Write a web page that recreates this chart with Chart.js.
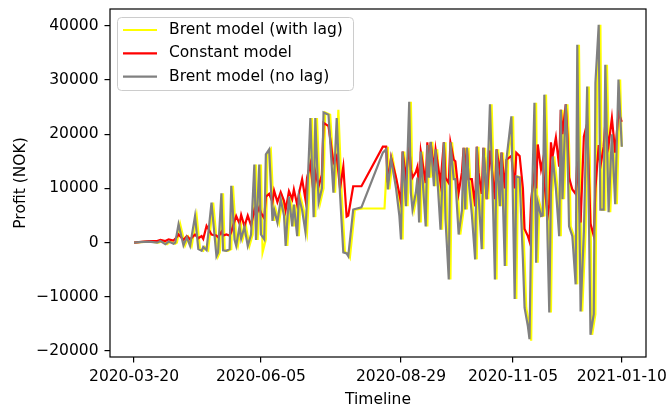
<!DOCTYPE html>
<html>
<head>
<meta charset="utf-8">
<script src="https://cdn.jsdelivr.net/npm/chart.js@4/dist/chart.umd.min.js"></script>
<style>
  html, body { margin: 0; padding: 0; background: #fff; }
  #wrap { width: 668px; height: 409px; }
</style>
</head>
<body>
<div id="wrap"><canvas id="profitChart" width="668" height="409"></canvas></div>
<script>
// days counted from 2020-03-20
const days = [
  0, 3, 9, 14, 16, 19, 21, 24, 25, 27,
  30, 32, 34, 37, 39, 41, 42, 44, 47, 50,
  51, 53, 54, 56, 58, 59, 61, 62, 64, 65,
  67, 69, 71, 73, 74, 76, 77, 79, 80, 82,
  84, 85, 87, 89, 91, 92, 94, 96, 97, 99,
  100, 102, 104, 105, 107, 109, 110, 112, 114, 115,
  118, 121, 123, 125, 127, 129, 130, 133, 138, 151,
  153, 154, 156, 159, 161, 162, 163, 165, 167, 168,
  169, 171, 172, 173, 174, 177, 178, 179, 180, 182,
  183, 186, 188, 189, 191, 192, 194, 195, 197, 199,
  200, 201, 202, 203, 205, 207, 208, 209, 211, 212,
  214, 216, 218, 219, 220, 222, 223, 225, 226, 229,
  231, 232, 234, 236, 237, 239, 240, 241, 243, 244,
  245, 247, 248, 249, 251, 252, 253, 254, 256, 258,
  259, 260, 262, 263, 264, 266, 268, 269, 271, 273,
  275, 277, 279, 280, 282, 283, 285, 286, 288, 290,
  292, 294, 296
];

const constantProfit = [
  0, 100, 300, 300, 500, 300, 600, 400, 700, 1500,
  500, 1200, 600, 1500, 800, 1200, 700, 3100, 1500, 1300,
  1000, 2000, 1300, 1500, 1300, 2000, 4000, 4900, 3500, 5100,
  3000, 5000, 3200, 6000, 5000, 6500, 5500, 4500, 8500, 9000,
  7500, 9600, 7500, 9300, 7700, 6000, 9500, 8000, 9800, 7000,
  9000, 11700, 8000, 12000, 14500, 9000, 13000, 10400, 12500, 22100,
  21500, 14800, 16000, 10000, 14000, 4800, 5000, 10400, 10400, 17700,
  17700, 11100, 15700, 12000, 9000, 7400, 16800, 12000, 18000, 13500,
  12000, 13000, 14000, 10000, 16800, 11000, 18500, 14000, 18500, 13500,
  17200, 11000, 18500, 12000, 11000, 18500, 15300, 15000, 9200, 13000,
  17500, 13000, 17500, 11700, 11700, 6700, 17700, 13000, 9000, 17500,
  8000, 17000, 11000, 8000, 17200, 13000, 16600, 10000, 15300, 16000,
  10000, 16600, 16000, 10000, 2500, 1200, 200, 8000, 13000, 10000,
  18100, 13500, 15000, 11000, 4900, 7000, 18500, 15900, 19400, 14000,
  24500, 20000, 25500, 20000, 12000, 9800, 9000, 15000, 3700, 19600,
  22000, 3500, 1200, 10000, 18000, 14000, 17700, 22000, 18000, 23000,
  16600, 24000, 22300
];

const brentNoLag = [
  0, 100, 200, 0, 300, -300, 200, -200, 0, 3400,
  -500, 1000, -600, 4900, -1200, -1500, -800, -1400, 7400, -2500,
  -1800, 9100, -1400, -1500, -1200, 10500, 500, -600, 3000, 700,
  2900, -600, 1500, 14400, 500, 14400, 1500, 600, 16300, 17200,
  4000, 6100, 3700, 8000, 5000, -600, 8500, 3000, 7000, 1200,
  8500, 6000, 2000, 8000, 23000, 4700, 23000, 7400, 10000, 24000,
  23600, 9200, 23000, 9000, -1800, -2000, -2500, 6100, 6500, 16600,
  17200, 9800, 15500, 10000, 5000, 600, 16800, 6700, 26000, 9200,
  6100, 9200, 12000, 3700, 16800, 3000, 18000, 12000, 18600, 10400,
  17200, 2400, 18500, 4300, -6800, 18500, 11700, 11700, 1500, 6000,
  17500, 6100, 17500, 11700, 5200, -3100, 17700, 9200, -1200, 17500,
  8000, 25500, 5000, -6800, 17200, 6700, 16600, -4300, 15300, 23300,
  -10400, 12200, 12000, -3100, -12000, -15400, -17800, 2000, 25800, -3700,
  7400, 4900, 5000, 27300, 0, -12900, 9200, 15900, 10000, 1200,
  24500, 8000, 25500, 18000, 3000, 1200, -7700, 36500, -12700, 2000,
  28800, -17000, -13200, 29500, 40200, 6100, 6100, 32800, 5600, 20000,
  7100, 30100, 17700
];

// the lagged model trails the unlagged one by a day
const lagDays = [
  0, 4, 10, 15, 17, 20, 22, 25, 26, 28,
  31, 33, 35, 38, 40, 42, 43, 45, 48, 51,
  52, 54, 55, 57, 59, 60, 62, 63, 65, 66,
  68, 70, 72, 74, 75, 77, 78, 80, 81, 83,
  85, 86, 88, 90, 92, 93, 95, 97, 98, 100,
  101, 103, 105, 106, 108, 110, 111, 113, 115, 116,
  119, 122, 124, 126, 128, 130, 131, 134, 139, 152,
  154, 155, 157, 160, 162, 163, 164, 166, 168, 169,
  170, 172, 173, 174, 175, 178, 179, 180, 181, 183,
  184, 187, 189, 190, 192, 193, 195, 196, 198, 200,
  201, 202, 203, 204, 206, 208, 209, 210, 212, 213,
  215, 217, 219, 220, 221, 223, 224, 226, 227, 230,
  232, 233, 235, 237, 238, 240, 241, 242, 244, 245,
  246, 248, 249, 250, 252, 253, 254, 255, 257, 259,
  260, 261, 263, 264, 265, 267, 269, 270, 272, 274,
  276, 278, 280, 281, 283, 284, 286, 287, 289, 291,
  293, 295, 296
];

const brentWithLag = [
  0, 100, 200, 0, 300, -300, 200, -200, 0, 3400,
  -500, 1000, -600, 4900, -1200, -1500, -800, -1400, 7400, -2500,
  -1800, 9100, -1400, -1500, -1200, 10500, 500, -600, 3000, 700,
  2900, -600, 1500, 14400, 500, 14400, -1800, 600, 16300, 17200,
  4000, 6100, 3700, 8000, 5000, -600, 8500, 3000, 7000, 1200,
  8500, 6000, 2000, 8000, 23000, 4700, 23000, 7400, 10000, 24000,
  23600, 9200, 24500, 9000, -1800, -2000, -2700, 6100, 6300, 6300,
  17700, 9800, 15500, 10000, 5000, 600, 16800, 6700, 26000, 9200,
  6100, 9200, 12000, 3700, 16800, 3000, 18000, 12000, 18600, 10400,
  17200, 2400, 18500, 4300, -6800, 18500, 11700, 11700, 1500, 6000,
  17500, 6100, 17500, 11700, 5200, -3100, 17700, 9200, -1200, 17500,
  8000, 25500, 5000, -6800, 17200, 6700, 16600, -4300, 15300, 23300,
  -10400, 12200, 12000, -3100, -12000, -15400, -18100, 2000, 25800, -3700,
  7400, 4900, 5000, 27300, 0, -12900, 9200, 15900, 10000, 1200,
  24500, 8000, 25500, 18000, 3000, 1200, -7700, 36500, -12700, 2000,
  28800, -17000, -13200, 29500, 40200, 6100, 6100, 32800, 5600, 20000,
  7100, 30100, 17700
];

const tickDays = [0, 77, 162, 230, 296];
const tickDates = ['2020-03-20', '2020-06-05', '2020-08-29', '2020-11-05', '2021-01-10'];
const profitTicks = [-20000, -10000, 0, 10000, 20000, 30000, 40000];

const seriesNames = ['Brent model (with lag)', 'Constant model', 'Brent model (no lag)'];
const seriesColors = ['#ffff00', '#ff0000', '#808080'];

const FONT = 'DejaVu Sans';
const FONT_SIZE = 15.5;

Chart.defaults.font.family = FONT;
Chart.defaults.font.size = FONT_SIZE;
Chart.defaults.color = '#000';

const toPoints = (xs, ys) => xs.map((x, i) => ({ x: x, y: ys[i] }));

// axes frame + legend box drawn by hand
const frameAndLegend = {
  id: 'frameAndLegend',
  afterDraw(chart) {
    const { ctx, chartArea: a } = chart;
    ctx.save();
    ctx.strokeStyle = '#000';
    ctx.lineWidth = 1.2;
    ctx.strokeRect(a.left, a.top, a.right - a.left, a.bottom - a.top);

    const bx = 117, by = 17, bw = 236, bh = 73;
    ctx.beginPath();
    ctx.roundRect(bx + 0.5, by + 0.5, bw, bh, 4);
    ctx.fillStyle = 'rgba(255,255,255,0.8)';
    ctx.fill();
    ctx.strokeStyle = '#cccccc';
    ctx.lineWidth = 1;
    ctx.stroke();

    ctx.font = FONT_SIZE + 'px "' + FONT + '"';
    ctx.textBaseline = 'middle';
    ctx.textAlign = 'left';
    seriesNames.forEach((name, i) => {
      const y = 30 + i * 23.3;
      ctx.beginPath();
      ctx.moveTo(123, y);
      ctx.lineTo(157, y);
      ctx.strokeStyle = seriesColors[i];
      ctx.lineWidth = 2.2;
      ctx.stroke();
      ctx.fillStyle = '#000';
      ctx.fillText(name, 169, y);
    });
    ctx.restore();
  }
};

new Chart(document.getElementById('profitChart'), {
  type: 'line',
  data: {
    datasets: [
      {
        label: seriesNames[0],
        data: toPoints(lagDays, brentWithLag),
        borderColor: seriesColors[0],
        order: 3
      },
      {
        label: seriesNames[1],
        data: toPoints(days, constantProfit),
        borderColor: seriesColors[1],
        order: 2
      },
      {
        label: seriesNames[2],
        data: toPoints(days, brentNoLag),
        borderColor: seriesColors[2],
        order: 1
      }
    ]
  },
  options: {
    responsive: false,
    animation: false,
    layout: { padding: { top: 9, right: 22, left: 0, bottom: 0 } },
    elements: {
      point: { radius: 0 },
      line: { tension: 0, borderWidth: 2.2, fill: false }
    },
    plugins: {
      legend: { display: false },
      tooltip: { enabled: false }
    },
    scales: {
      x: {
        type: 'linear',
        min: -14.6,
        max: 310.7,
        afterBuildTicks: (s) => { s.ticks = tickDays.map(v => ({ value: v })); },
        afterFit: (s) => { s.height = 52; s.paddingLeft = 0; s.paddingRight = 0; },
        ticks: {
          autoSkip: false,
          maxRotation: 0,
          minRotation: 0,
          padding: 5,
          callback: (v, i) => tickDates[i]
        },
        grid: { drawOnChartArea: false, drawTicks: true, tickLength: 5.5, color: '#000', lineWidth: 1.2 },
        border: { display: false },
        title: { display: true, text: 'Timeline', padding: { top: 4, bottom: 0 } }
      },
      y: {
        type: 'linear',
        min: -21100,
        max: 43100,
        afterBuildTicks: (s) => { s.ticks = profitTicks.map(v => ({ value: v })); },
        afterFit: (s) => { s.width = 110; s.paddingTop = 0; s.paddingBottom = 0; },
        ticks: {
          padding: 6,
          callback: (v) => String(v).replace('-', '\u2212')
        },
        grid: { drawOnChartArea: false, drawTicks: true, tickLength: 5.5, color: '#000', lineWidth: 1.2 },
        border: { display: false },
        title: { display: true, text: 'Profit (NOK)', padding: { top: 12, bottom: 0 } }
      }
    }
  },
  plugins: [frameAndLegend]
});
</script>
</body>
</html>
